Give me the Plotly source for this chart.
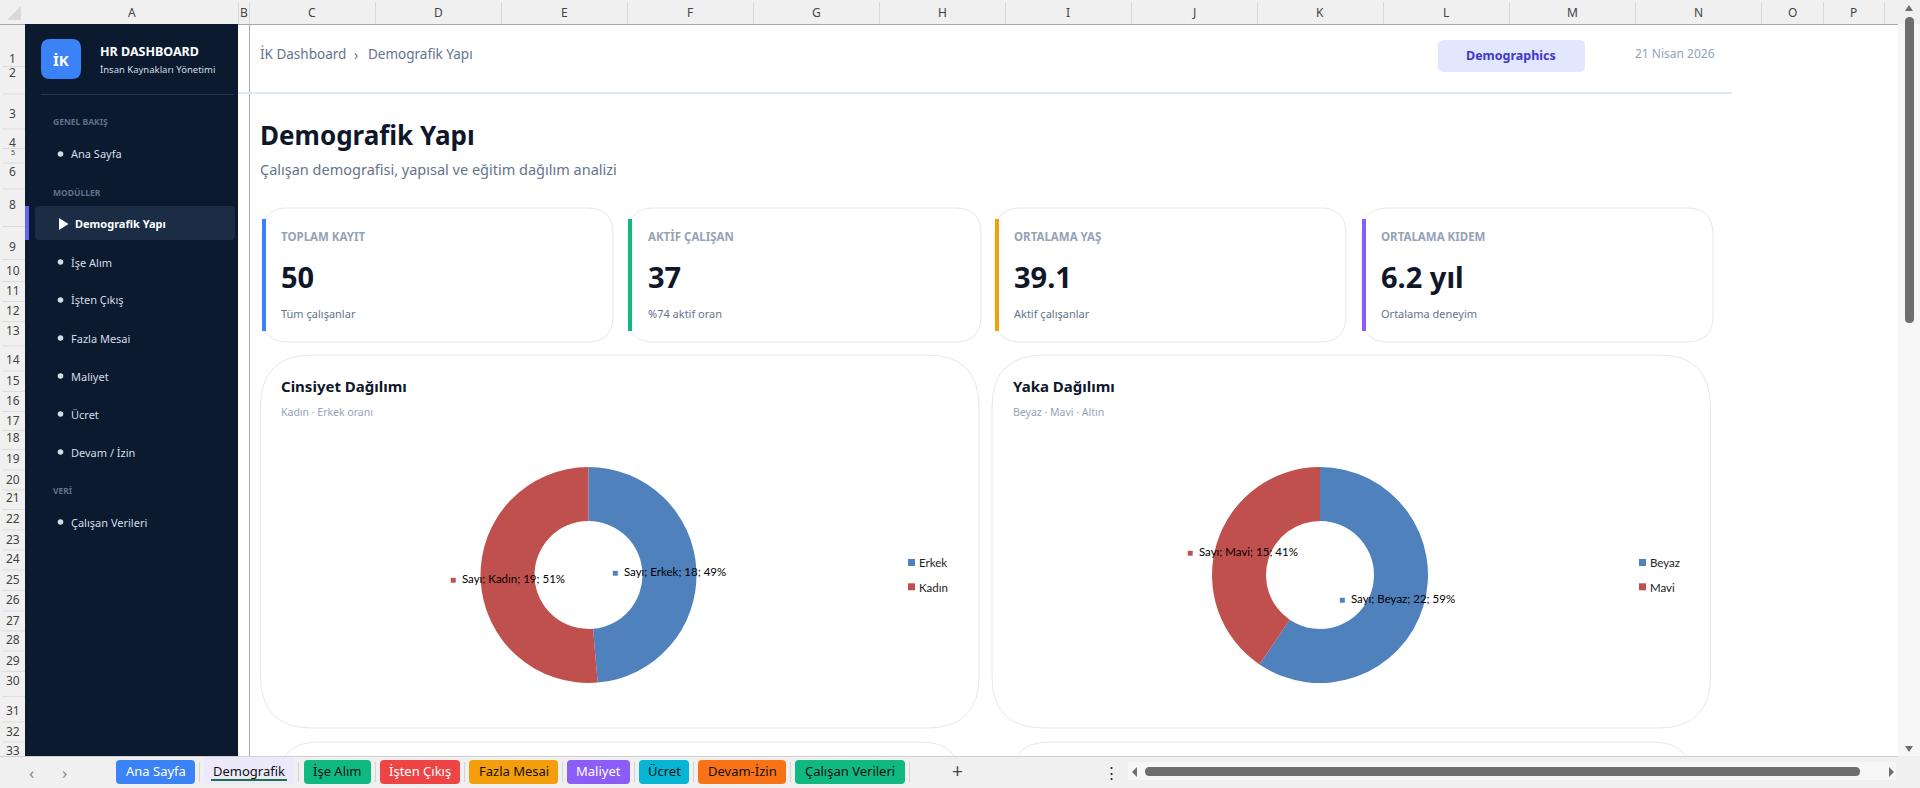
import numpy as np
import plotly.graph_objects as go

# chart data
gender_names = ["Erkek", "Kadın"]
gender_counts = [18, 19]
collar_names = ["Beyaz", "Mavi"]
collar_counts = [22, 15]
slice_colors = ["#4f81bd", "#c0504d"]

kpi_titles = ["TOPLAM KAYIT", "AKTİF ÇALIŞAN", "ORTALAMA YAŞ", "ORTALAMA KIDEM"]
kpi_values = ["50", "37", "39.1", "6.2 yıl"]
kpi_notes = ["Tüm çalışanlar", "%74 aktif oran", "Aktif çalışanlar", "Ortalama deneyim"]
kpi_colors = ["#3b82f6", "#10b981", "#f59e0b", "#8b5cf6"]

nav_items = ["Ana Sayfa", "İşe Alım", "İşten Çıkış", "Fazla Mesai", "Maliyet", "Ücret",
             "Devam / İzin", "Çalışan Verileri"]
nav_y = [154, 262, 300, 338, 376, 414, 452, 522]
nav_heads = ["GENEL BAKIŞ", "MODÜLLER", "VERİ"]
nav_head_y = [122, 192, 490]

tab_names = ["Ana Sayfa", "Demografik", "İşe Alım", "İşten Çıkış", "Fazla Mesai", "Maliyet",
             "Ücret", "Devam-İzin", "Çalışan Verileri"]
tab_left = [116, 204, 304, 380, 469, 567, 639, 698, 795]
tab_right = [195, 294, 371, 460, 558, 630, 689, 786, 905]
tab_fill = ["#3b82f6", "#eceafa", "#10b981", "#ef4444", "#f59e0b", "#8b5cf6", "#06b6d4", "#f97316", "#10b981"]
tab_ink = ["#ffffff", "#111111", "#111111", "#ffffff", "#111111", "#ffffff", "#111111", "#111111", "#111111"]

col_letters = list("ABCDEFGHIJKLMNOP")
col_edges = [25, 238, 249, 375, 501, 627, 753, 879, 1005, 1131, 1257, 1383, 1509, 1635, 1761, 1823, 1884]
row_labels = [1, 2, 3, 4, 5, 6, 8, 9, 10, 11, 12, 13, 14, 15, 16, 17, 18, 19, 20, 21, 22, 23, 24, 25, 26,
              27, 28, 29, 30, 31, 32, 33]
row_y = [58, 72, 113, 142, 152, 171, 204, 246, 270, 290, 310, 330, 359, 380, 400, 420, 438, 458, 479, 498,
         518, 539, 558, 579, 599, 620, 639, 660, 680, 710, 731, 750]

W, H = 1920, 788
UI_FONT = "Noto Sans"
XL_FONT = "Lato"
NAVY = "#0b1a2f"
INK = "#0f172a"
SLATE = "#64748b"
MUTED = "#94a3b8"
BORDER = "#e2e8f0"


def px(x):
    return x / W


def py(y):
    return 1 - y / H


shapes = []
notes = []


def rect(x0, y0, x1, y1, fill, line=None):
    shapes.append(dict(type="rect", xref="paper", yref="paper", layer="below",
                       x0=px(x0), x1=px(x1), y0=py(y0), y1=py(y1), fillcolor=fill,
                       line=dict(width=1 if line else 0, color=line or fill)))


def rrect(x0, y0, x1, y1, r, fill, line=None, open_bottom=False):
    pts = [f"M{px(x0 + r)},{py(y0)}", f"L{px(x1 - r)},{py(y0)}", f"Q{px(x1)},{py(y0)} {px(x1)},{py(y0 + r)}"]
    if open_bottom:
        pts += [f"L{px(x1)},{py(y1)}", f"L{px(x0)},{py(y1)}"]
    else:
        pts += [f"L{px(x1)},{py(y1 - r)}", f"Q{px(x1)},{py(y1)} {px(x1 - r)},{py(y1)}",
                f"L{px(x0 + r)},{py(y1)}", f"Q{px(x0)},{py(y1)} {px(x0)},{py(y1 - r)}"]
    pts += [f"L{px(x0)},{py(y0 + r)}", f"Q{px(x0)},{py(y0)} {px(x0 + r)},{py(y0)}", "Z"]
    shapes.append(dict(type="path", xref="paper", yref="paper", layer="below", path=" ".join(pts),
                       fillcolor=fill, line=dict(width=1 if line else 0, color=line or fill)))


def poly(points, fill):
    p = "M" + " L".join(f"{px(a)},{py(b)}" for a, b in points) + " Z"
    shapes.append(dict(type="path", xref="paper", yref="paper", layer="below", path=p,
                       fillcolor=fill, line=dict(width=0)))


def dot(x, y, r, fill):
    shapes.append(dict(type="circle", xref="paper", yref="paper", layer="below",
                       x0=px(x - r), x1=px(x + r), y0=py(y - r), y1=py(y + r),
                       fillcolor=fill, line=dict(width=0)))


def label(x, y, text, size, color, bold=False, anchor="left", font=UI_FONT):
    if bold:
        text = f"<b>{text}</b>"
    notes.append(dict(xref="paper", yref="paper", x=px(x), y=py(y), text=text, showarrow=False,
                      xanchor=anchor, yanchor="middle", borderpad=0, borderwidth=0,
                      font=dict(family=font, size=size, color=color)))


# sheet chrome
rect(0, 0, W, H, "#f0f0f0")
rect(25, 24, 1898, 756, "#ffffff")
poly([(21, 6), (21, 20), (7, 20)], "#d9d9d9")
for i, letter in enumerate(col_letters):
    label((col_edges[i] + col_edges[i + 1]) / 2, 13, letter, 12, "#444444", anchor="center")
for edge in col_edges[1:]:
    rect(edge, 2, edge + 0.8, 24, "#d4d4d4")
rect(0, 24, 1898, 25, "#a8a8a8")
for num, y in zip(row_labels, row_y):
    label(12.5, y, str(num), 7 if num == 5 else 12, "#444444", anchor="center")
for a, b in zip(row_y[:-1], row_y[1:]):
    rect(2, (a + b) / 2 + 1, 25, (a + b) / 2 + 1.8, "#d8d8d8")

# sidebar
rect(25, 24, 238, 756, NAVY)
rect(249, 24, 250, 756, "#a9a9b5")
rrect(41, 39, 81, 79, 9, "#3b82f6")
label(61, 60, "İK", 15, "#ffffff", bold=True, anchor="center")
label(99.5, 52, "HR DASHBOARD", 12.5, "#ffffff", bold=True)
label(99.5, 70, "İnsan Kaynakları Yönetimi", 9.5, "#d5dce6")
rect(41, 94, 234, 95, "#25364d")
for head, y in zip(nav_heads, nav_head_y):
    label(52.5, y, head, 8.5, "#5f7088", bold=True)
for item, y in zip(nav_items, nav_y):
    dot(60.5, y, 2.8, "#d5dce6")
    label(70.5, y, item, 11, "#d5dce6")
rrect(35, 206, 235, 240, 4, "#1b2d45")
rect(25, 206, 29, 240, "#6366f1")
poly([(59, 218), (59, 230), (68.5, 224)], "#ffffff")
label(74.5, 224, "Demografik Yapı", 11, "#ffffff", bold=True)

# page header
label(260, 54, "İK Dashboard", 13.5, SLATE)
label(354, 55, "›", 13.5, SLATE)
label(367.5, 54, "Demografik Yapı", 13.5, SLATE)
rrect(1438, 40, 1585, 72, 6, "#e0e7ff")
label(1511, 56, "Demographics", 12.5, "#4338ca", bold=True, anchor="center")
label(1635, 53, "21 Nisan 2026", 12, MUTED)
rect(238, 92, 1732, 94, BORDER)
label(260, 135, "Demografik Yapı", 26, INK, bold=True)
label(260, 169, "Çalışan demografisi, yapısal ve eğitim dağılım analizi", 14.5, SLATE)

# KPI cards
card_left = [262, 628, 995, 1362]
card_right = [613, 981, 1346, 1713]
text_left = [281, 648, 1014, 1381]
for i in range(4):
    rrect(card_left[i], 208, card_right[i], 342, 26, "#ffffff", BORDER)
    rect(card_left[i], 219, card_left[i] + 4, 331, kpi_colors[i])
    label(text_left[i], 236, kpi_titles[i], 11.5, MUTED, bold=True)
    label(text_left[i], 276, kpi_values[i], 29, INK, bold=True)
    label(text_left[i], 313, kpi_notes[i], 11, SLATE)

# chart cards, the next row is cut off by the tab bar
for x0, x1 in [(260.5, 979), (992, 1710.5)]:
    rrect(x0, 355, x1, 728, 52, "#ffffff", BORDER)
    rrect(x0 + 18, 742, x1 - 18, 757, 40, "#ffffff", BORDER, open_bottom=True)
label(281, 386, "Cinsiyet Dağılımı", 15, INK, bold=True)
label(281, 412, "Kadın · Erkek oranı", 10.5, MUTED)
label(1013, 386, "Yaka Dağılımı", 15, INK, bold=True)
label(1013, 412, "Beyaz · Mavi · Altın", 10.5, MUTED)

# tab bar
rect(0, 756, W, H, "#f0f0f0")
rect(0, 756, 1898, 757, "#d0d0d0")
label(31, 772, "‹", 17, "#8a8a8a", anchor="center")
label(64, 772, "›", 17, "#8a8a8a", anchor="center")
for i, name in enumerate(tab_names):
    top = 757 if i == 1 else 760
    rrect(tab_left[i], top, tab_right[i], 784, 4, tab_fill[i])
    label((tab_left[i] + tab_right[i]) / 2, 771, name, 13, tab_ink[i], anchor="center")
    rect(tab_right[i] + 4, 762, tab_right[i] + 5, 782, "#d4d4d4")
rect(211, 779, 287, 781, "#217346")
label(957.5, 771, "+", 19, "#444444", anchor="center")
label(1111, 772, "⋮", 15, "#222222", anchor="center")
rect(1128, 762, 1896, 780, "#f7f7f7")
poly([(1137, 767), (1137, 777), (1132, 772)], "#6e6e6e")
rrect(1145, 767, 1860, 776, 4.5, "#6e6e6e")
poly([(1889, 767), (1889, 777), (1894, 772)], "#6e6e6e")

# vertical scrollbar
rect(1898, 24, W, 756, "#f7f7f7")
rrect(1905, 17, 1914, 323, 4.5, "#6e6e6e")
poly([(1905, 11), (1913, 11), (1909, 5)], "#6e6e6e")
poly([(1905, 746), (1913, 746), (1909, 752)], "#6e6e6e")

fig = go.Figure()


def add_donut(names, counts, cx, cy, legend_x):
    values = np.array(counts, dtype=float)
    fig.add_trace(go.Pie(labels=names, values=counts, hole=0.5, sort=False, direction="clockwise", rotation=0,
                         marker=dict(colors=slice_colors, line=dict(width=0)), textinfo="none", showlegend=False,
                         domain=dict(x=[px(cx - 108), px(cx + 108)], y=[py(cy + 108), py(cy - 108)])))
    # data labels sit in the middle of the ring, like the Excel chart
    ends = np.cumsum(values) / values.sum() * 2 * np.pi
    mids = ends - values / values.sum() * np.pi
    for i, name in enumerate(names):
        pct = round(100 * values[i] / values.sum())
        key = f'<span style="color:{slice_colors[i]};font-size:10px">■</span>'
        label(cx + 81 * np.sin(mids[i]), cy - 81 * np.cos(mids[i]), f"{key}  Sayı; {name}; {counts[i]}; {pct}%",
              11.5, "#000000", anchor="center", font=XL_FONT)
        rect(legend_x, 559 + 24.3 * i, legend_x + 7, 566 + 24.3 * i, slice_colors[i])
        label(legend_x + 10.5, 562.7 + 24.3 * i, name, 11.5, "#222222", font=XL_FONT)


add_donut(gender_names, gender_counts, 588.5, 575, 908)
add_donut(collar_names, collar_counts, 1320, 575, 1639)

fig.update_layout(width=W, height=H, margin=dict(l=0, r=0, t=0, b=0), paper_bgcolor="#ffffff",
                  plot_bgcolor="#ffffff", shapes=shapes, annotations=notes, showlegend=False)
fig.write_html("out.html", config=dict(displayModeBar=False),
               post_script="document.body.style.margin='0';document.body.style.overflow='hidden';")
